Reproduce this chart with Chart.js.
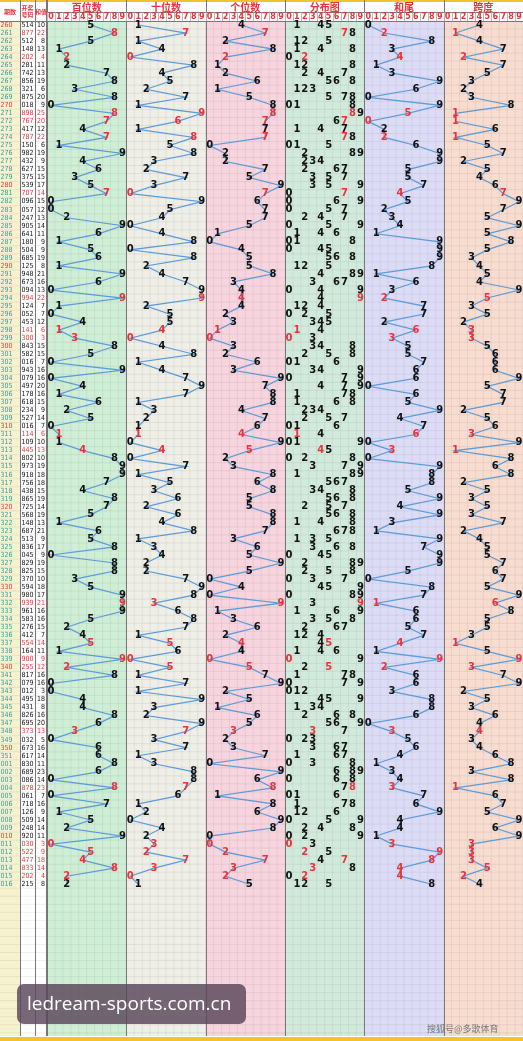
<!DOCTYPE html>
<html><head><meta charset="utf-8">
<script src="https://cdn.jsdelivr.net/npm/chart.js@4"></script>
<style>html,body{margin:0;padding:0;background:#fff}#w{width:523px;height:1041px;position:relative}</style>
</head><body><div id="w"><canvas id="c"></canvas></div>
<script>
const issues=['260','261','262','263','264','265','266','267','268','269','270','271','272','273','274','275','276','277','278','279','280','281','282','283','284','285','286','287','288','289','290','291','292','293','294','295','296','297','298','299','300','301','302','303','304','305','306','307','308','309','310','311','312','313','314','315','316','317','318','319','320','321','322','323','324','325','326','327','328','329','330','331','332','333','334','335','336','337','338','339','340','341','342','343','344','345','346','347','348','349','350','351','001','002','003','004','005','006','007','008','009','010','011','012','013','014','015','016'];
const draws=['514','877','512','148','202','281','742','856','321','875','018','898','767','417','787','150','982','432','627','375','539','707','096','057','247','905','641','180','504','685','125','948','673','094','994','124','052','453','141','300','843','582','016','943','079','497','178','618','234','527','016','114','109','445','802','973','918','756','438','865','725','568','148','687','513','836','045','829','825','370','594','980','939','961','583','276','412','554','164','900','255','817','079','012','495','431','826','695','373','032','673','617','830','689','086','878','061','718','126','509','248','920','030','522','477','833','202','215'];
const sums=[10,22,8,13,4,11,13,19,6,20,9,25,20,12,22,6,19,9,15,15,17,14,15,12,13,14,11,9,9,19,8,21,16,13,22,7,7,12,6,3,15,15,7,16,16,20,16,15,9,14,7,6,10,13,10,19,18,18,15,19,14,19,13,21,9,17,9,19,15,10,18,17,21,16,16,15,7,14,11,9,12,16,16,3,18,8,16,20,13,5,16,14,11,23,14,23,7,16,9,14,14,11,3,9,18,14,4,8];
const panelTitles=['百位数','十位数','个位数','分布图','和尾','跨度'];

const RED='#e8333a', BLK='#111', LINE='#5b9bd8';
const panelBg=['#cfeed6','#efefe8','#f7d4de','#d2eadc','#dcdcf7','#f8dccf'];
const isPair=draws.map(d=>new Set(d.split('')).size<3);
const digits=draws.map(d=>d.split('').map(Number));
function pt(p,v,i){return {x:p*10+v+0.5,y:i,v:v};}
const sets=[];
[0,1,2].forEach(p=>sets.push(digits.map((d,i)=>pt(p,d[p],i))));
const distPts=[];digits.forEach((d,i)=>[...new Set(d)].forEach(v=>distPts.push(Object.assign(pt(3,v,i),{rep:d.filter(x=>x===v).length>1}))));
sets.push(sums.map((s,i)=>pt(4,s%10,i)));
sets.push(digits.map((d,i)=>pt(5,Math.max(...d)-Math.min(...d),i)));

const datasets=sets.map(s=>({data:s,showLine:true,borderColor:LINE,borderWidth:1.2,pointRadius:0}));
datasets.splice(3,0,{data:distPts,showLine:false,pointRadius:0});

const L=47;
const plug={id:'tbl',
beforeDatasetsDraw(ch){
  const c=ch.ctx,xs=ch.scales.x,ys=ch.scales.y,a=ch.chartArea;
  c.save();
  c.fillStyle='#f6f2cf';c.fillRect(0,a.top,20,a.bottom-a.top);
  c.fillStyle='#fff';c.fillRect(20,a.top,27,a.bottom-a.top);
  for(let p=0;p<6;p++){const x0=xs.getPixelForValue(p*10),x1=xs.getPixelForValue(p*10+10);c.fillStyle=panelBg[p];c.fillRect(x0,a.top,x1-x0,a.bottom-a.top);}
  c.strokeStyle='rgba(140,140,140,0.25)';c.lineWidth=0.6;
  for(let k=0;k<=60;k++){const x=xs.getPixelForValue(k);c.beginPath();c.moveTo(x,a.top);c.lineTo(x,a.bottom);c.stroke();}
  for(let r=-0.5;r<126;r+=1){const y=ys.getPixelForValue(r);c.beginPath();c.moveTo(0,y);c.lineTo(a.right,y);c.stroke();}
  c.strokeStyle='#777';c.lineWidth=1;
  [20,35,46].forEach(x=>{c.beginPath();c.moveTo(x+.5,0);c.lineTo(x+.5,a.bottom);c.stroke();});
  for(let p=0;p<=6;p++){const x=Math.round(xs.getPixelForValue(p*10))+.5;c.beginPath();c.moveTo(x,0);c.lineTo(x,a.bottom);c.stroke();}
  c.fillStyle='#fff';c.fillRect(0,0,523,a.top);
  c.fillStyle='#f2c230';c.fillRect(0,0,523,2);c.fillRect(0,1037,523,4);
  c.strokeStyle='#777';c.lineWidth=1;
  [20,35,46].forEach(x=>{c.beginPath();c.moveTo(x+.5,0);c.lineTo(x+.5,a.top);c.stroke();});
  c.textAlign='center';c.textBaseline='middle';
  c.fillStyle=RED;c.font='bold 6px "Noto Sans CJK SC"';
  c.fillText('期数',10,12);c.fillText('开奖',27.5,8);c.fillText('号码',27.5,15);c.fillText('和值',41,12);
  for(let p=0;p<6;p++){
    const x0=xs.getPixelForValue(p*10),x1=xs.getPixelForValue(p*10+10);
    c.font='bold 10px "Noto Sans CJK SC"';
    c.fillStyle=RED;c.fillText(panelTitles[p],(x0+x1)/2,7);
    c.beginPath();c.strokeStyle='#777';c.moveTo(x0,12.5);c.lineTo(x1,12.5);c.stroke();
    c.beginPath();c.moveTo(Math.round(x0)+.5,0);c.lineTo(Math.round(x0)+.5,a.top);c.stroke();
    c.font='bold 8px "DejaVu Sans"';
    for(let d=0;d<10;d++){const x=xs.getPixelForValue(p*10+d+.5);c.fillStyle=RED;c.fillText(d,x,17);
      c.strokeStyle='#bbb';c.beginPath();c.moveTo(Math.round(xs.getPixelForValue(p*10+d))+.5,12.5);c.lineTo(Math.round(xs.getPixelForValue(p*10+d))+.5,a.top);c.stroke();}
  }
  c.beginPath();c.strokeStyle='#777';c.moveTo(0,a.top+.5);c.lineTo(523,a.top+.5);c.stroke();
  c.font='7px "DejaVu Sans Condensed"';
  issues.forEach((s,i)=>{const y=ys.getPixelForValue(i);
    c.textAlign='left';c.fillStyle=(s.endsWith('0'))?'#e04030':'#3b9a9a';c.fillText(s,0.5,y);
    c.fillStyle=isPair[i]?RED:BLK;c.fillText(draws[i],21.5,y);
    c.textAlign='right';c.fillText(sums[i],45,y);});
  c.restore();
},
afterDatasetsDraw(ch){
  const c=ch.ctx;c.save();c.textAlign='center';c.textBaseline='middle';c.font='bold 10px "DejaVu Sans"';
  ch.data.datasets.forEach((ds,di)=>{const m=ch.getDatasetMeta(di);
    m.data.forEach((el,k)=>{const d=ds.data[k];
      const red=di===3?d.rep:isPair[d.y];
      c.fillStyle=red?RED:BLK;c.fillText(d.v,el.x,el.y);});});
  c.fillStyle='rgba(90,70,90,0.82)';c.beginPath();c.roundRect(17,984,229,40,7);c.fill();
  c.fillStyle='#fff';c.font='19px "Open Sans"';c.textAlign='left';c.fillText('ledream-sports.com.cn',27,1005);
  c.fillStyle='#777';c.font='9px "Noto Sans CJK SC"';c.fillText('搜狐号@多歌体育',427,1029);
  c.restore();
}};

new Chart(document.getElementById('c'),{type:'scatter',data:{datasets},
options:{responsive:true,maintainAspectRatio:false,animation:false,
layout:{padding:{left:L,top:21,right:0,bottom:5}},
plugins:{legend:{display:false},tooltip:{enabled:false}},
scales:{x:{type:'linear',min:0,max:60,display:false},
y:{type:'linear',min:-0.5,max:125.9,reverse:true,display:false}}},
plugins:[plug]});
</script></body></html>
